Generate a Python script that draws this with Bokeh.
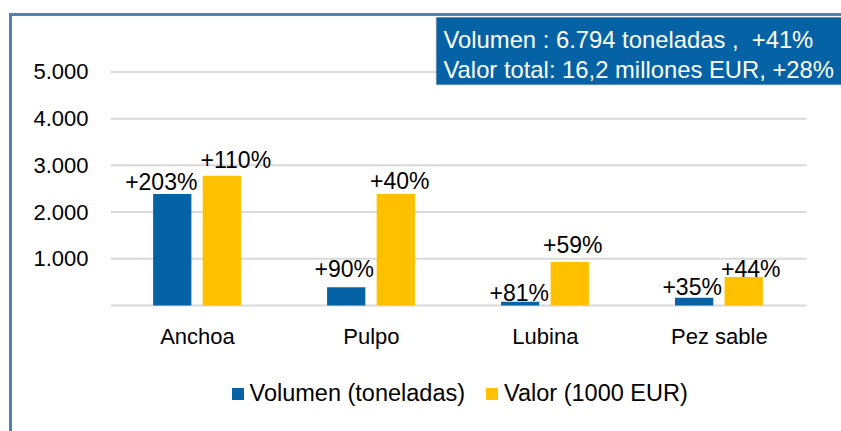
from bokeh.plotting import figure
from bokeh.models import (Range1d, ColumnDataSource, FixedTicker, BoxAnnotation,
                          Label, Legend, LegendItem)
from bokeh.embed import file_html
from bokeh.resources import INLINE

# ---- data ----
categories = ["Anchoa", "Pulpo", "Lubina", "Pez sable"]
volumen = [2390, 390, 80, 165]          # toneladas
valor = [2780, 2390, 930, 610]          # 1000 EUR
volumen_labels = ["+203%", "+90%", "+81%", "+35%"]
valor_labels = ["+110%", "+40%", "+59%", "+44%"]
y_ticks = [0, 1000, 2000, 3000, 4000, 5000]
y_tick_labels = ["", "1.000", "2.000", "3.000", "4.000", "5.000"]
summary_lines = ["Volumen :\u00a06.794 toneladas ,\u00a0\u00a0+41%",
                 "Valor total: 16,2 millones EUR, +28%"]
series_names = ["Volumen (toneladas)", "Valor (1000 EUR)"]

# label nudges (pixels, layout only)
vol_dx = [-11, -2, -1, -2]
vol_dy = [-12, -18, -9, -11]
val_dx = [14, 4, 3, 7]
val_dy = [-16, -13, -17, -8]

BLUE = "#0563A5"
YELLOW = "#FFC000"
FONT = "Liberation Sans"
GRID = "#D9D9D9"

centers = [i + 0.5 for i in range(len(categories))]
vol_x = [c - 0.145 for c in centers]
val_x = [c + 0.14 for c in centers]

src = ColumnDataSource(dict(vx=vol_x, tx=val_x, vol=volumen, val=valor,
                            vl=volumen_labels, tl=valor_labels,
                            vdx=vol_dx, vdy=vol_dy, tdx=val_dx, tdy=val_dy))

PX_PER_UNIT_Y = 0.0464   # pixels per data unit on the y axis (layout)
p = figure(x_range=Range1d(0, 731 / 173.25),
           y_range=Range1d(-128 / PX_PER_UNIT_Y, 5000 + 55 / PX_PER_UNIT_Y),
           width=832, height=418, output_backend="svg", toolbar_location=None,
           min_border_left=98, min_border_right=0,
           min_border_top=0, min_border_bottom=0)
p.styles = {"margin-left": "9px", "margin-top": "13px",
            "border-left": "3px solid #4F81BD", "border-top": "3px solid #4F81BD"}
p.outline_line_color = None
p.background_fill_color = "white"
p.border_fill_color = "white"
p.xgrid.grid_line_color = None
p.ygrid.grid_line_color = None

p.segment(x0=[0] * len(y_ticks), x1=[len(categories)] * len(y_ticks),
          y0=y_ticks, y1=y_ticks, line_color=GRID, line_width=2)

r_vol = p.vbar(x="vx", top="vol", width=0.22, source=src,
               fill_color=BLUE, line_color=None)
r_val = p.vbar(x="tx", top="val", width=0.22, source=src,
               fill_color=YELLOW, line_color=None)

p.text(x="vx", y="vol", text="vl", source=src, x_offset="vdx", y_offset="vdy",
       text_align="center", text_baseline="alphabetic",
       text_font_size="23px", text_font={"value": FONT}, text_color="black")
p.text(x="tx", y="val", text="tl", source=src, x_offset="tdx", y_offset="tdy",
       text_align="center", text_baseline="alphabetic",
       text_font_size="23px", text_font={"value": FONT}, text_color="black")

p.yaxis.ticker = FixedTicker(ticks=y_ticks)
p.yaxis.major_label_overrides = {t: l for t, l in zip(y_ticks, y_tick_labels)}
p.yaxis.axis_line_color = None
p.yaxis.major_tick_line_color = None
p.yaxis.minor_tick_line_color = None
p.yaxis.major_label_standoff = 16
p.yaxis.major_label_text_font = FONT
p.yaxis.major_label_text_font_size = "22px"
p.yaxis.major_label_text_color = "black"

p.xaxis.fixed_location = 0
p.xaxis.ticker = FixedTicker(ticks=centers)
p.xaxis.major_label_overrides = {c: n for c, n in zip(centers, categories)}
p.xaxis.axis_line_color = None
p.xaxis.major_tick_line_color = None
p.xaxis.minor_tick_line_color = None
p.xaxis.major_label_standoff = 12
p.xaxis.major_label_text_font = FONT
p.xaxis.major_label_text_font_size = "22px"
p.xaxis.major_label_text_color = "black"

# summary box (screen units from the frame's bottom-left)
p.add_layout(BoxAnnotation(left=326, right=800, top=417, bottom=350,
                           left_units="screen", right_units="screen",
                           top_units="screen", bottom_units="screen",
                           fill_color=BLUE, fill_alpha=1.0,
                           line_color="#1F3F66", line_width=1.5))
for i, line in enumerate(summary_lines):
    p.add_layout(Label(x=333, y=395 - 30 * i, x_units="screen", y_units="screen",
                       text=line, text_font=FONT, text_font_size="23.8px",
                       text_color="white", text_baseline="alphabetic"))

legend = Legend(items=[LegendItem(label=series_names[0], renderers=[r_vol]),
                       LegendItem(label=series_names[1], renderers=[r_val])],
                location=(119.5, 27), orientation="horizontal",
                glyph_width=15, glyph_height=15, label_height=24,
                label_standoff=5, spacing=19, padding=0, margin=0,
                border_line_color=None, background_fill_alpha=0,
                label_text_font=FONT, label_text_font_size="23.5px",
                label_text_color="black")
p.add_layout(legend, "center")

open("out.html", "w").write(file_html(p, INLINE))
